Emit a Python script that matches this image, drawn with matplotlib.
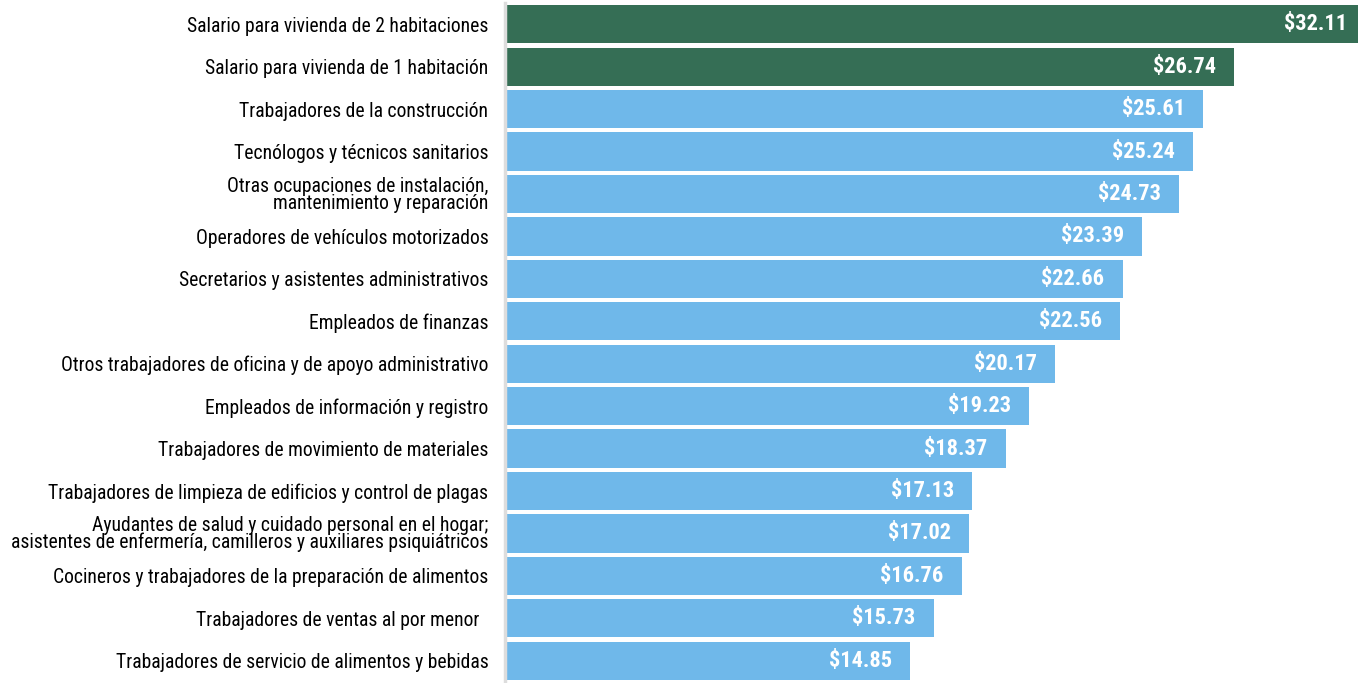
# Horizontal bar chart: hourly wage needed for housing vs. wages by occupation.

import matplotlib.pyplot as plt
from matplotlib import font_manager

# Category labels, top to bottom.
categories = [
    "Salario para vivienda de 2 habitaciones",
    "Salario para vivienda de 1 habitación",
    "Trabajadores de la construcción",
    "Tecnólogos y técnicos sanitarios",
    "Otras ocupaciones de instalación,\nmantenimiento y reparación",
    "Operadores de vehículos motorizados",
    "Secretarios y asistentes administrativos",
    "Empleados de finanzas",
    "Otros trabajadores de oficina y de apoyo administrativo",
    "Empleados de información y registro",
    "Trabajadores de movimiento de materiales",
    "Trabajadores de limpieza de edificios y control de plagas",
    "Ayudantes de salud y cuidado personal en el hogar;\nasistentes de enfermería, camilleros y auxiliares psiquiátricos",
    "Cocineros y trabajadores de la preparación de alimentos",
    "Trabajadores de ventas al por menor  ",
    "Trabajadores de servicio de alimentos y bebidas",
]

# Hourly wage values, same order.
wages = [32.11, 26.74, 25.61, 25.24, 24.73, 23.39, 22.66, 22.56,
         20.17, 19.23, 18.37, 17.13, 17.02, 16.76, 15.73, 14.85]

# Which bars are the housing-wage reference bars.
is_housing = [True, True] + [False] * 14

green = "#356e55"
blue = "#6fb8ea"
colors = [green if h else blue for h in is_housing]

# Pick a narrow font if one is installed.
installed = {f.name for f in font_manager.fontManager.ttflist}
font = "Liberation Sans"
for cand in ["Roboto Condensed", "Open Sans Condensed", "Liberation Sans Narrow",
             "Noto Sans Condensed", "Lato", "Roboto"]:
    if cand in installed:
        font = cand
        break
fonts = [font, "DejaVu Sans"]

fig = plt.figure(figsize=(13.58, 6.83), dpi=100)
ax = fig.add_axes([505 / 1358, 1 / 683, 853 / 1358, 679 / 683])

y = list(range(len(categories)))
ax.barh(y, wages, height=0.9, color=colors)

xmax = 31.3
ax.set_xlim(0, xmax)
ax.set_ylim(len(categories) - 0.5, -0.5)

# Value labels inside the bars, right-aligned.
value_texts = []
for yi, v in zip(y, wages):
    # Bars running past the edge get their label just inside the edge.
    offset = -8 if v > xmax else -13
    t = ax.annotate(f"${v:.2f}", xy=(min(v, xmax), yi), xytext=(offset, 0),
                    textcoords="offset points", ha="right", va="center",
                    color="white", fontsize=15, fontweight="bold", family=fonts)
    value_texts.append(t)

ax.set_yticks(y)
labels = ax.set_yticklabels(categories, fontsize=14, family=fonts, linespacing=0.85)
ax.tick_params(axis="y", length=0, pad=12)
ax.set_xticks([])

for side in ["top", "right", "bottom"]:
    ax.spines[side].set_visible(False)
ax.spines["left"].set_color("#dddddd")
ax.spines["left"].set_linewidth(2.5)

# Fit font sizes so the text widths match the reference.
renderer = fig.canvas.get_renderer()
widest = labels[8].get_window_extent(renderer).width
label_size = 14 * 430 / widest
for lab in labels:
    lab.set_fontsize(label_size)
vw = value_texts[0].get_window_extent(renderer).width
value_size = 15 * 63 / vw
for t in value_texts:
    t.set_fontsize(value_size)

fig.savefig("out.png", dpi=100)
plt.close(fig)
